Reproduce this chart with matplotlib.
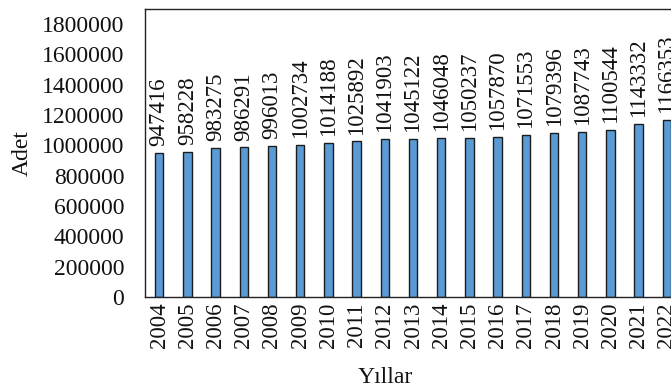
import matplotlib
matplotlib.use("Agg")
from matplotlib import pyplot as plt
import numpy as np

years = ['2004', '2005', '2006', '2007', '2008', '2009', '2010', '2011', '2012', '2013',
         '2014', '2015', '2016', '2017', '2018', '2019', '2020', '2021', '2022']
counts = [947416, 958228, 983275, 986291, 996013, 1002734, 1014188, 1025892, 1041903, 1045122,
          1046048, 1050237, 1057870, 1071553, 1079396, 1087743, 1100544, 1143332, 1166353]
yticks = [0, 200000, 400000, 600000, 800000, 1000000, 1200000, 1400000, 1600000, 1800000]

plt.rcParams['font.family'] = ['Liberation Serif', 'DejaVu Serif']

fig = plt.figure(figsize=(6.71, 3.92), dpi=100)
# plot area runs a little past the right edge (the source image is cropped)
ax = fig.add_axes([145/671, 95/392, 536/671, 288/392])

x = np.arange(len(years))
bars = ax.bar(x, counts, width=0.3, color='#5b9bd5', edgecolor='#1c1c1c', linewidth=1.0)

for xi, v in zip(x, counts):
    ax.annotate(str(v), (xi, v), xytext=(0, 5), textcoords='offset points',
                rotation=90, ha='center', va='bottom', fontsize=16.5, color='#111111')

ax.set_xlim(-0.5, len(years) - 0.5)
ax.set_ylim(0, 1900000)
ax.set_yticks(yticks)
ax.set_yticklabels([str(t) for t in yticks])
ax.set_xticks(x)
ax.set_xticklabels(years, rotation=90)

ax.tick_params(axis='y', length=0, pad=15, labelsize=17, labelcolor='#111111')
ax.tick_params(axis='x', length=0, pad=4, labelsize=16.5, labelcolor='#111111')

for s in ax.spines.values():
    s.set_color('#222222')
    s.set_linewidth(1.0)

ax.set_xlabel('Yıllar', fontsize=17, color='#111111')
ax.set_ylabel('Adet', fontsize=17, color='#111111')
ax.xaxis.set_label_coords((385 - 145) / 536, (297 - 367) / 288)
ax.yaxis.set_label_coords((33 - 145) / 536, 0.5)

fig.savefig('out.png', dpi=100)
